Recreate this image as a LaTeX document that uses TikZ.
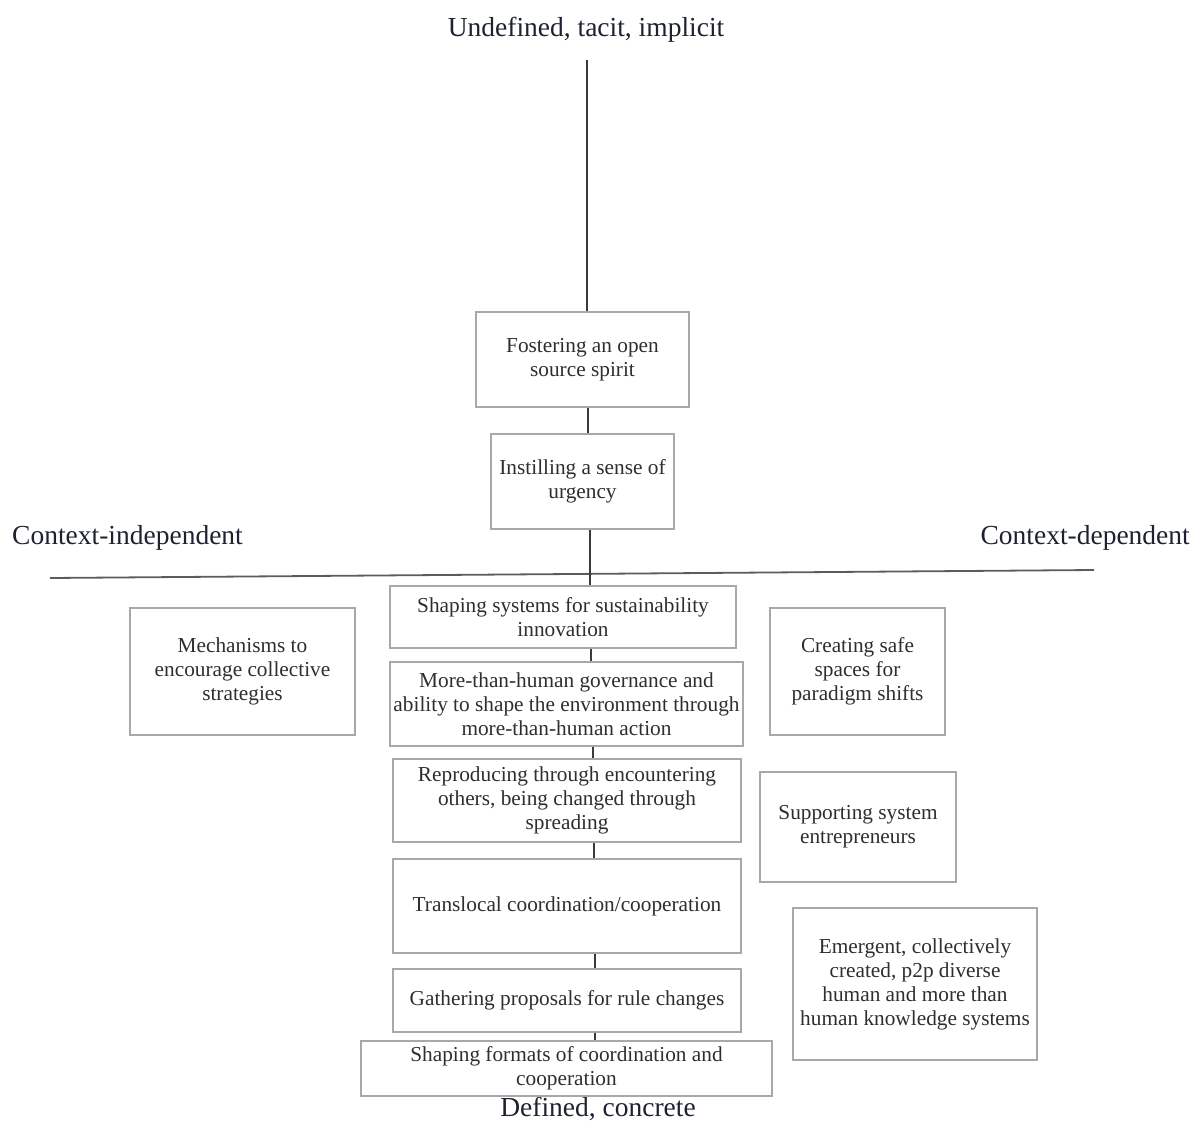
\documentclass[tikz,border=0pt]{standalone}
\usepackage{fontspec}
\setmainfont{Liberation Serif}
\begin{document}
\begin{tikzpicture}[x=1pt,y=-1pt,
  box/.style={draw=boxgray,line width=1.1pt,inner sep=0pt,align=center,
    text=bodytext,font=\fontsize{21.3}{24}\selectfont},
  heading/.style={inner sep=0pt,text=headtext,font=\fontsize{27.5}{32}\selectfont},
  spine/.style={draw=linedark,line width=1.4pt}]
\definecolor{boxgray}{HTML}{A8A8A8}
\definecolor{bodytext}{HTML}{2E2E2E}
\definecolor{headtext}{HTML}{1C2230}
\definecolor{linedark}{HTML}{3A3A3A}
\definecolor{axisgray}{HTML}{5C5C5C}
\useasboundingbox (0,0) rectangle (1193,1123);

% axis labels
\node[heading] (top) at (586,30) {Undefined, tacit, implicit};
\node[heading,anchor=base] (bottom) at (598,1116) {Defined, concrete};
\node[heading,anchor=west] (cind) at (12,538) {Context-independent};
\node[heading,anchor=east] (cdep) at (1190,538) {Context-dependent};

% central column
\node[box,minimum width=213pt,minimum height=95pt] (b1) at (582.5,359.5) {Fostering an open\\source spirit};
\node[box,minimum width=183pt,minimum height=95pt] (b2) at (582.5,481.5) {Instilling a sense of\\urgency};
\node[box,minimum width=346pt,minimum height=62pt] (b3) at (563,617) {Shaping systems for sustainability\\innovation};
\node[box,minimum width=353pt,minimum height=84pt] (b4) at (566.5,704) {More-than-human governance and\\ability to shape the environment through\\more-than-human action};
\node[box,minimum width=348pt,minimum height=83pt] (b5) at (567,800.5) {Reproducing through encountering\\others, being changed through\\spreading};
\node[box,minimum width=348pt,minimum height=94pt] (b6) at (567,906) {Translocal coordination/cooperation};
\node[box,minimum width=348pt,minimum height=63pt] (b7) at (567,1000.5) {Gathering proposals for rule changes};
\node[box,minimum width=411pt,minimum height=55pt] (b8) at (566.5,1068.5) {Shaping formats of coordination and\\cooperation};

% side boxes
\node[box,minimum width=225pt,minimum height=127pt] (l1) at (242.5,671.5) {Mechanisms to\\encourage collective\\strategies};
\node[box,minimum width=175pt,minimum height=127pt] (r1) at (857.5,671.5) {Creating safe\\spaces for\\paradigm shifts};
\node[box,minimum width=196pt,minimum height=110pt] (r2) at (858,827) {Supporting system\\entrepreneurs};
\node[box,minimum width=244pt,minimum height=152pt] (r3) at (915,984) {Emergent, collectively\\created, p2p diverse\\human and more than\\human knowledge systems};

% spine positions
\coordinate (s0) at (587,60);
\coordinate (s1) at (588,0);
\coordinate (s2) at (590,0);
\coordinate (s3) at (591,0);
\coordinate (s4) at (593,0);
\coordinate (s5) at (594,0);
\coordinate (s6) at (595,0);

% horizontal axis
\coordinate (hl) at (50,578);
\coordinate (hr) at (1094,570);
\draw[axisgray,line width=1.8pt] (hl) -- (hr);

% vertical spine
\draw[spine] (s0) -- (b1.north -| s0);
\draw[spine] (b1.south -| s1) -- (b2.north -| s1);
\draw[spine] (b2.south -| s2) -- (b3.north -| s2);
\draw[spine] (b3.south -| s3) -- (b4.north -| s3);
\draw[spine] (b4.south -| s4) -- (b5.north -| s4);
\draw[spine] (b5.south -| s5) -- (b6.north -| s5);
\draw[spine] (b6.south -| s6) -- (b7.north -| s6);
\draw[spine] (b7.south -| s6) -- (b8.north -| s6);
\end{tikzpicture}
\end{document}
